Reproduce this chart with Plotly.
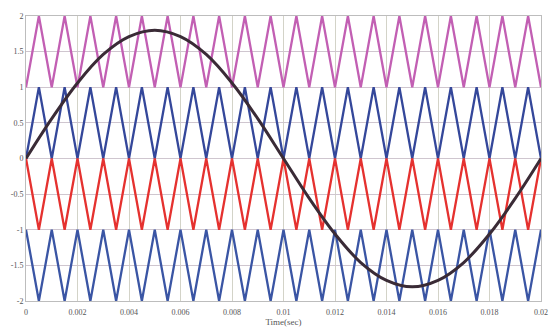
import plotly.graph_objects as go

# carrier vertex times (s)
carrier_t = [0, 0.0005, 0.001, 0.0015, 0.002, 0.0025, 0.003, 0.0035, 0.004, 0.0045,
             0.005, 0.0055, 0.006, 0.0065, 0.007, 0.0075, 0.008, 0.0085, 0.009, 0.0095,
             0.01, 0.0105, 0.011, 0.0115, 0.012, 0.0125, 0.013, 0.0135, 0.014, 0.0145,
             0.015, 0.0155, 0.016, 0.0165, 0.017, 0.0175, 0.018, 0.0185, 0.019, 0.0195, 0.02]

carrier1 = [1, 2, 1, 2, 1, 2, 1, 2, 1, 2, 1, 2, 1, 2, 1, 2, 1, 2, 1, 2, 1,
            2, 1, 2, 1, 2, 1, 2, 1, 2, 1, 2, 1, 2, 1, 2, 1, 2, 1, 2, 1]
carrier2 = [0, 1, 0, 1, 0, 1, 0, 1, 0, 1, 0, 1, 0, 1, 0, 1, 0, 1, 0, 1, 0,
            1, 0, 1, 0, 1, 0, 1, 0, 1, 0, 1, 0, 1, 0, 1, 0, 1, 0, 1, 0]
carrier3 = [0, -1, 0, -1, 0, -1, 0, -1, 0, -1, 0, -1, 0, -1, 0, -1, 0, -1, 0, -1, 0,
            -1, 0, -1, 0, -1, 0, -1, 0, -1, 0, -1, 0, -1, 0, -1, 0, -1, 0, -1, 0]
carrier4 = [-1, -2, -1, -2, -1, -2, -1, -2, -1, -2, -1, -2, -1, -2, -1, -2, -1, -2, -1, -2, -1,
            -2, -1, -2, -1, -2, -1, -2, -1, -2, -1, -2, -1, -2, -1, -2, -1, -2, -1, -2, -1]

# reference (modulating) wave, read at 1 ms steps
ref_t = [0, 0.001, 0.002, 0.003, 0.004, 0.005, 0.006, 0.007, 0.008, 0.009, 0.01,
         0.011, 0.012, 0.013, 0.014, 0.015, 0.016, 0.017, 0.018, 0.019, 0.02]
ref_v = [0, 0.56, 1.06, 1.46, 1.71, 1.8, 1.71, 1.46, 1.06, 0.56, 0,
         -0.56, -1.06, -1.46, -1.71, -1.8, -1.71, -1.46, -1.06, -0.56, 0]

x_ticks = [0, 0.002, 0.004, 0.006, 0.008, 0.01, 0.012, 0.014, 0.016, 0.018, 0.02]
x_tick_labels = ["0", "0.002", "0.004", "0.006", "0.008", "0.01", "0.012", "0.014", "0.016", "0.018", "0.02"]
y_ticks = [-2, -1.5, -1, -0.5, 0, 0.5, 1, 1.5, 2]
y_tick_labels = ["-2", "-1.5", "-1", "-0.5", "0", "0.5", "1", "1.5", "2"]

fig = go.Figure()
fig.add_trace(go.Scatter(x=carrier_t, y=carrier1, mode="lines", line=dict(color="#c25fb3", width=2.3)))
fig.add_trace(go.Scatter(x=carrier_t, y=carrier2, mode="lines", line=dict(color="#34479a", width=2.3)))
fig.add_trace(go.Scatter(x=carrier_t, y=carrier3, mode="lines", line=dict(color="#e5312f", width=2.3)))
fig.add_trace(go.Scatter(x=carrier_t, y=carrier4, mode="lines", line=dict(color="#3a55a4", width=2.3)))
fig.add_trace(go.Scatter(x=ref_t, y=ref_v, mode="lines", line=dict(color="#3a2b36", width=3, shape="spline")))

font_fam = "Liberation Serif, Times New Roman, serif"
fig.update_layout(
    width=552, height=331,
    margin=dict(l=26, r=11, t=16, b=30, autoexpand=False),
    paper_bgcolor="white", plot_bgcolor="white",
    showlegend=False,
    font=dict(family=font_fam, size=8, color="#555555"),
    xaxis=dict(range=[0, 0.02], tickvals=x_ticks, ticktext=x_tick_labels,
               showgrid=True, gridcolor="#d3d3c8", gridwidth=1, zeroline=False,
               showline=True, linecolor="#bdbdbd", mirror=True,
               ticks="outside", ticklen=3, tickcolor="rgba(0,0,0,0)",
               ticklabeloverflow="allow",
               tickfont=dict(size=8, family=font_fam, color="#555555"),
               title=dict(text="Time(sec)", font=dict(size=9, family=font_fam, color="#555555"), standoff=3)),
    yaxis=dict(range=[-2, 2], tickvals=y_ticks, ticktext=y_tick_labels,
               showgrid=True, gridcolor="#cfc6cf", gridwidth=1, zeroline=False,
               showline=True, linecolor="#bdbdbd", mirror=True,
               ticks="", tickfont=dict(size=8, family=font_fam, color="#555555")),
)

fig.write_html("out.html", config={"displayModeBar": False},
               post_script="document.body.style.margin='0';document.body.style.overflow='hidden';")
